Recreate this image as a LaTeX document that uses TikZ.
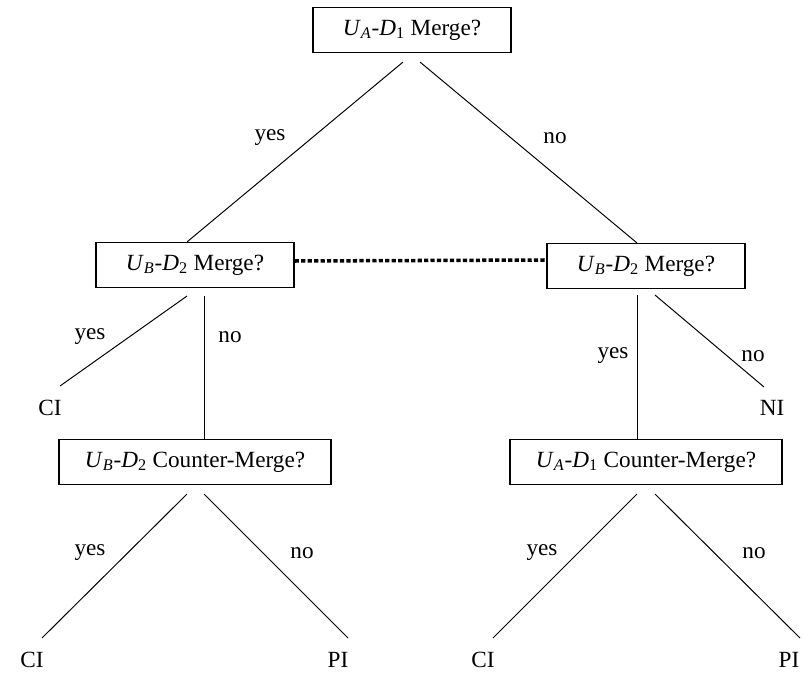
\documentclass[tikz,border=0pt]{standalone}
\usepackage{fontspec}
\setmainfont{Liberation Serif}
\tikzstyle{question}=[draw,line width=0.9pt,minimum width=4.95cm,minimum height=1.12cm,inner sep=0pt,font=\fontsize{16.5}{19}\selectfont]
\tikzstyle{wide question}=[question,minimum width=6.8cm]
\tikzstyle{outcome}=[inner sep=0pt,font=\fontsize{16.5}{19}\selectfont]
\tikzstyle{answer}=[inner sep=0pt,font=\fontsize{16.5}{19}\selectfont]
\tikzstyle{branch}=[line width=0.7pt]
\newcommand{\UD}[2]{\textit{U}\textsubscript{\textit{#1}}-\textit{D}\textsubscript{#2}}

\begin{document}
\begin{tikzpicture}[x=0.025cm, y=-0.025cm]
\useasboundingbox (0, 0) rectangle (804, 675);

\node[question] at (412, 30) (top) {\UD{A}{1} Merge?};
\node[question] at (195, 265) (lm) {\UD{B}{2} Merge?};
\node[question] at (646, 266) (rm) {\UD{B}{2} Merge?};
\node[wide question] at (195, 462) (lb) {\UD{B}{2} Counter-Merge?};
\node[wide question] at (646, 462) (rb) {\UD{A}{1} Counter-Merge?};

\node[outcome] at (50, 408) (ci1) {CI};
\node[outcome] at (772, 408) (ni) {NI};
\node[outcome] at (32, 660) (ci2) {CI};
\node[outcome] at (338, 660) (pi1) {PI};
\node[outcome] at (483, 660) (ci3) {CI};
\node[outcome] at (789, 660) (pi2) {PI};

\node[answer] at (270, 138) (yes1) {yes};
\node[answer] at (555, 138) (no1) {no};
\node[answer] at (90, 337) (yes2) {yes};
\node[answer] at (230, 337) (no2) {no};
\node[answer] at (613, 356) (yes3) {yes};
\node[answer] at (753, 356) (no3) {no};
\node[answer] at (90, 553) (yes4) {yes};
\node[answer] at (302, 553) (no4) {no};
\node[answer] at (542, 553) (yes5) {yes};
\node[answer] at (754, 553) (no5) {no};

\draw[branch] ([shift={(-9,9)}]top.south) -- ([shift={(-8,0)}]lm.north);
\draw[branch] ([shift={(8,9)}]top.south) -- ([shift={(-9,0)}]rm.north);
\draw[branch] ([shift={(-8,8)}]lm.south) -- ([shift={(10,-22)}]ci1.center);
\draw[branch] ([shift={(9,8)}]lm.south) -- ([shift={(9,0)}]lb.north);
\draw[branch] ([shift={(-9,6)}]rm.south) -- ([shift={(-9,0)}]rb.north);
\draw[branch] ([shift={(9,6)}]rm.south) -- ([shift={(-8,-21)}]ni.center);
\draw[branch] ([shift={(-8,9)}]lb.south) -- ([shift={(10,-22)}]ci2.center);
\draw[branch] ([shift={(9,9)}]lb.south) -- ([shift={(10,-22)}]pi1.center);
\draw[branch] ([shift={(-9,9)}]rb.south) -- ([shift={(10,-22)}]ci3.center);
\draw[branch] ([shift={(9,9)}]rb.south) -- ([shift={(11,-22)}]pi2.center);

\draw[line width=2.5pt, dash pattern=on 3pt off 1.6pt] ([shift={(0,-4)}]lm.east) -- ([shift={(0,-6)}]rm.west);

\end{tikzpicture}
\end{document}
